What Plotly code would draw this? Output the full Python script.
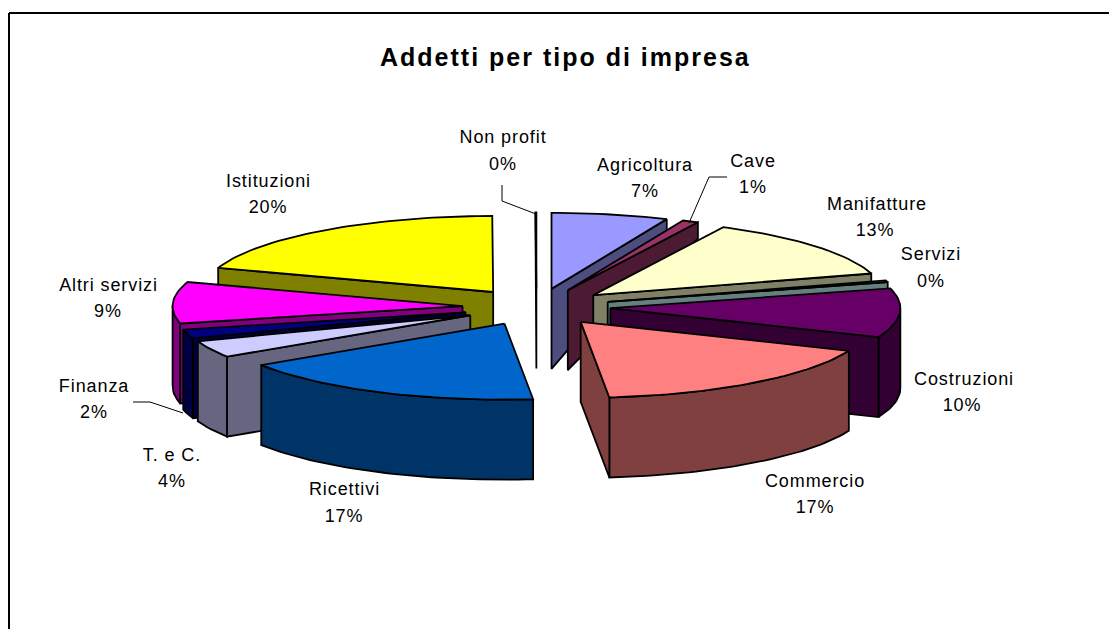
import numpy as np
import plotly.graph_objects as go

# ---- data ----
categories = ["Agricoltura", "Cave", "Manifatture", "Servizi", "Costruzioni", "Commercio",
              "Ricettivi", "T. e C.", "Finanza", "Altri servizi", "Istituzioni", "Non profit"]
values = [6.5, 0.9, 13.0, 0.4, 10.4, 17.2, 17.4, 3.6, 1.9, 8.8, 19.8, 0.05]
top_colors = ["#9999FF", "#993366", "#FFFFCC", "#CCFFFF", "#660066", "#FF8080",
              "#0066CC", "#CCCCFF", "#000080", "#FF00FF", "#FFFF00", "#000000"]
wall_colors = ["#4D4D80", "#4D1A33", "#808066", "#668080", "#330033", "#804040",
               "#003366", "#666680", "#000040", "#800080", "#808000", "#000000"]
title_text = "Addetti per tipo di impresa"

# ---- layout of the drawing (pixels of the 1109x629 page) ----
W, H = 1109, 629
CX, CY = 536.5, 307.0       # pie centre
EX, EY = 74.0, 18.5         # explosion radii
RX, RY = 290.0, 76.0        # top-face radii
DEPTH = 80.0

label_pos = {
    "Non profit": (503, 137, 503, 164), "Agricoltura": (645, 165, 645, 191),
    "Cave": (753, 161, 753, 187), "Manifatture": (877, 204, 875, 230),
    "Servizi": (931, 254, 931, 281), "Costruzioni": (964, 379, 962, 405),
    "Commercio": (815, 481, 815, 507), "Ricettivi": (344, 489, 344, 516),
    "T. e C.": (172, 455, 172, 481), "Finanza": (94, 386, 94, 412),
    "Altri servizi": (108, 285, 108, 311), "Istituzioni": (268, 181, 268, 207),
}
leaders = [[(502, 185), (502, 201), (536, 214)],
           [(727, 177), (709, 177), (689, 223)],
           [(133, 402), (150, 402), (183, 413)]]


def rim_depth(theta):
    """Visible thickness of the pie at the rim: shrinks towards the back."""
    return np.interp(np.cos(theta), [-1, 0, 0.3, 1], [DEPTH, DEPTH, 28, 14])


fracs = np.array(values) / sum(values)
ends = np.cumsum(fracs) * 2 * np.pi
starts = ends - fracs * 2 * np.pi
mids = (starts + ends) / 2
order = np.argsort(-np.cos(mids))

fig = go.Figure()


def poly(xs, ys, fill):
    xs = list(xs) + [xs[0]]
    ys = list(ys) + [ys[0]]
    fig.add_trace(go.Scatter(x=xs, y=ys, mode="lines", fill="toself", fillcolor=fill,
                             line=dict(color="black", width=1.8), hoverinfo="skip",
                             showlegend=False))


for i in order:
    a0, a1, m = starts[i], ends[i], mids[i]
    ax = CX + EX * np.sin(m)
    ay = CY - EY * np.cos(m)
    th = np.linspace(a0, a1, max(2, int((a1 - a0) * 40)))
    rx = ax + RX * np.sin(th)
    ry = ay - RY * np.cos(th)
    d = rim_depth(th)
    # outer wall: only the part of the rim that faces the viewer
    front = np.cos(th) < 0.02
    if front.sum() >= 2:
        fx, fy, fd = rx[front], ry[front], d[front]
        poly(list(fx) + list(fx[::-1]), list(fy) + list((fy + fd)[::-1]), wall_colors[i])
    # cut faces that face the viewer
    if np.sin(a0) < 0:
        poly([ax, rx[0], rx[0], ax], [ay, ry[0], ry[0] + d[0], ay + DEPTH], wall_colors[i])
    if np.sin(a1) > 0:
        poly([ax, rx[-1], rx[-1], ax], [ay, ry[-1], ry[-1] + d[-1], ay + DEPTH], wall_colors[i])
    # top face
    poly([ax] + list(rx), [ay] + list(ry), top_colors[i])

# leader lines
for pts in leaders:
    fig.add_trace(go.Scatter(x=[p[0] for p in pts], y=[p[1] for p in pts], mode="lines",
                             line=dict(color="black", width=1), hoverinfo="skip",
                             showlegend=False))

FONT = "Liberation Sans, Arial, sans-serif"
ann = [dict(x=566, y=57, text=f"<b>{title_text}</b>", showarrow=False, xanchor="center",
            yanchor="middle", font=dict(family=FONT, size=25, color="black"))]
for name, frac in zip(categories, fracs):
    x1, y1, x2, y2 = label_pos[name]
    for x, y, t in ((x1, y1, name), (x2, y2, f"{round(frac * 100)}%")):
        ann.append(dict(x=x, y=y, text=t, showarrow=False, xanchor="center", yanchor="middle",
                        font=dict(family=FONT, size=18, color="black")))

fig.update_layout(
    width=W, height=H, margin=dict(l=0, r=0, t=0, b=0),
    paper_bgcolor="white", plot_bgcolor="white", showlegend=False,
    xaxis=dict(range=[0, W], visible=False, fixedrange=True),
    yaxis=dict(range=[H, 0], visible=False, fixedrange=True),
    annotations=ann,
    shapes=[dict(type="line", xref="x", yref="y", x0=9, y0=13, x1=W, y1=13,
                 line=dict(color="black", width=2)),
            dict(type="line", xref="x", yref="y", x0=9, y0=13, x1=9, y1=H,
                 line=dict(color="black", width=2))],
)
post = """
document.body.style.margin = '0';
document.body.style.overflow = 'hidden';
document.querySelectorAll('.annotation-text').forEach(function (t) {
    t.style.letterSpacing = t.textContent.indexOf('Addetti') === 0 ? '2px' : '0.9px';
});
"""
fig.write_html("out.html", post_script=post, config={"displayModeBar": False})
